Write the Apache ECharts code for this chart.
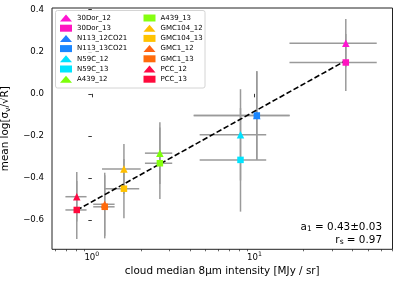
<!DOCTYPE html>
<html><head><meta charset="utf-8">
<script src="https://cdn.jsdelivr.net/npm/echarts@6/dist/echarts.min.js"></script>
<style>html,body{margin:0;padding:0;background:#fff}#c{width:399px;height:287px}</style>
</head><body><div id="c"></div>
<script>
// ---- data ----
const names = ['30Dor_12','30Dor_13','N113_12CO21','N113_13CO21','N59C_12','N59C_13','A439_12','A439_13','GMC104_12','GMC104_13','GMC1_12','GMC1_13','PCC_12','PCC_13'];
const colors = ['#ff14d2','#ff14c0','#1f7fff','#1a86ff','#00e2ff','#00e5ff','#7dff0a','#86ff10','#ffbe00','#ffc300','#ff6414','#ff6a0a','#ff0a46','#ff0a3c'];
const shapes = ['triangle','rect','triangle','rect','triangle','rect','triangle','rect','triangle','rect','triangle','rect','triangle','rect'];
const xVals = [36.4, 36.4, 10.33, 10.33, 8.2, 8.2, 2.62, 2.62, 1.575, 1.575, 1.2, 1.2, 0.808, 0.808];
const xErr  = [20, 20, 6.1, 6.1, 3.6, 3.6, 0.5, 0.5, 0.42, 0.38, 0.18, 0.18, 0.12, 0.12];
const yVals = [0.241, 0.149, -0.103, -0.103, -0.195, -0.314, -0.282, -0.330, -0.357, -0.451, -0.525, -0.537, -0.489, -0.552];
const yErr  = [0.115, 0.135, 0.21, 0.21, 0.217, 0.246, 0.147, 0.17, 0.119, 0.141, 0.15, 0.15, 0.118, 0.138];
const fitX = [0.808, 36.4];
const fitY = [-0.553, 0.158];
const xMajorTicks = [1, 10];
const xMinorTicks = [0.6,0.7,0.8,0.9,2,3,4,5,6,7,8,9,20,30,40,50,60,70];
const yTicks = [-0.6,-0.4,-0.2,0.0,0.2,0.4];
const xRange = [0.569, 70.5];
const yRange = [-0.739, 0.408];
const annot1 = ['a', '1', ' = 0.43±0.03'];
const annot2 = ['r', 's', ' = 0.97'];

// ---- chart ----
const FF = 'DejaVu Sans';
const L = Math.log10;
const chart = echarts.init(document.getElementById('c'), null, {renderer:'canvas'});

const errData = names.map((n,i)=>[L(xVals[i]), yVals[i], L(xVals[i]-xErr[i]), L(xVals[i]+xErr[i]), yVals[i]-yErr[i], yVals[i]+yErr[i]]);

function renderErr(params, api){
  const y = api.value(1), x = api.value(0);
  const l = api.coord([api.value(2), y]);
  const r = api.coord([api.value(3), y]);
  const b = api.coord([x, api.value(4)]);
  const t = api.coord([x, api.value(5)]);
  const st = {stroke:'#9a9a9a', lineWidth:1.5};
  return {type:'group', children:[
    {type:'line', shape:{x1:l[0],y1:l[1],x2:r[0],y2:r[1]}, style:st},
    {type:'line', shape:{x1:t[0],y1:t[1],x2:b[0],y2:b[1]}, style:st}
  ]};
}

const series = [];
names.forEach((n,i)=>{
  series.push({
    type:'custom', name:n+'_err', renderItem:renderErr, data:[errData[i]],
    encode:{x:0,y:1}, z:2+i*0.01, silent:true, clip:false
  });
});
series.push({
  type:'line', name:'fit', data:fitX.map((x,i)=>[L(x), fitY[i]]),
  symbol:'none', lineStyle:{color:'#000', width:1.6, type:[5.5,2.5]}, z:3, silent:true
});
names.forEach((n,i)=>{
  series.push({
    type:'scatter', name:n, data:[[L(xVals[i]), yVals[i]]],
    symbol:shapes[i], symbolSize: shapes[i]==='rect'?6.5:7.5,
    itemStyle:{color:colors[i], opacity:1}, z:4+i*0.01, silent:true
  });
});

const legendBase = {
  orient:'vertical', top:14, itemWidth:12, itemHeight:7, itemGap:2.2, padding:0, z:20,
  selectedMode:false, textStyle:{fontSize:7, fontFamily:FF, color:'#000', lineHeight:8}
};
const mkLegend = (arr, left)=>Object.assign({}, legendBase, {
  left:left, data:arr.map(n=>({name:n, icon: shapes[names.indexOf(n)]==='triangle'?'triangle':'rect'}))
});

const supRich = {b:{fontSize:8.6, fontFamily:FF, color:'#000'}, s:{fontSize:6.2, fontFamily:FF, color:'#000', padding:[0,0,6,0]}};

chart.setOption({
  animation:false,
  backgroundColor:'#fff',
  grid:{left:52, top:8, right:6.5, bottom:37.7, show:true, borderColor:'#222', borderWidth:1, backgroundColor:'transparent', containLabel:false, outerBoundsMode:'none'},
  xAxis:[{
    type:'value', min:L(xRange[0]), max:L(xRange[1]),
    axisLine:{show:false}, splitLine:{show:false},
    axisTick:{show:true, length:3.5, lineStyle:{color:'#222', width:0.9}, customValues:xMajorTicks.map(L)},
    axisLabel:{show:true, margin:2, customValues:xMajorTicks.map(L), formatter:v=>'{b|10}{s|'+Math.round(v)+'}', rich:supRich},
    name:'cloud median 8µm intensity [MJy / sr]', nameLocation:'middle', nameGap:12.5,
    nameTextStyle:{fontSize:10.4, fontFamily:FF, color:'#000'}
  },{
    type:'value', min:L(xRange[0]), max:L(xRange[1]), position:'bottom',
    axisLine:{show:false}, splitLine:{show:false},
    axisTick:{show:true, length:2, lineStyle:{color:'#222', width:0.7}, customValues:xMinorTicks.map(L)},
    axisLabel:{show:false}
  }],
  yAxis:[{
    type:'value', min:yRange[0], max:yRange[1],
    axisLine:{show:false}, splitLine:{show:false},
    axisTick:{show:true, length:3.5, lineStyle:{color:'#222', width:0.9}, customValues:yTicks},
    axisLabel:{show:true, margin:8, customValues:yTicks, fontSize:8.6, fontFamily:FF, color:'#000',
      formatter:v=>v.toFixed(1).replace('-','\u2212')},
    name:'mean log[σ{sub|v}/√R\u0305]', nameLocation:'middle', nameRotate:90, nameGap:29,
    nameTextStyle:{fontSize:10.4, fontFamily:FF, color:'#000',
      rich:{sub:{fontSize:7.5, fontFamily:FF, color:'#000', padding:[5,0,0,0]}}}
  }],
  legend:[mkLegend(names.slice(0,7), 60), mkLegend(names.slice(7), 143.5)],
  graphic:[
    {type:'rect', shape:{x:55.5, y:10.5, width:149.5, height:77.5, r:2}, style:{fill:'rgba(255,255,255,0.8)', stroke:'#d4d4d4', lineWidth:1}, z:5, silent:true},
    {type:'text', right:399-382, top:222, z:10, silent:true, style:{
      text:'{m|'+annot1[0]+'}{s|'+annot1[1]+'}{m|'+annot1[2]+'}', align:'right',
      rich:{m:{fontSize:10.4, fontFamily:FF, color:'#000'}, s:{fontSize:7.5, fontFamily:FF, color:'#000', padding:[5,0,0,0]}}}},
    {type:'text', right:399-382, top:235, z:10, silent:true, style:{
      text:'{m|'+annot2[0]+'}{s|'+annot2[1]+'}{m|'+annot2[2]+'}', align:'right',
      rich:{m:{fontSize:10.4, fontFamily:FF, color:'#000'}, s:{fontSize:7.5, fontFamily:FF, color:'#000', padding:[5,0,0,0]}}}}
  ],
  series:series
});
</script></body></html>
